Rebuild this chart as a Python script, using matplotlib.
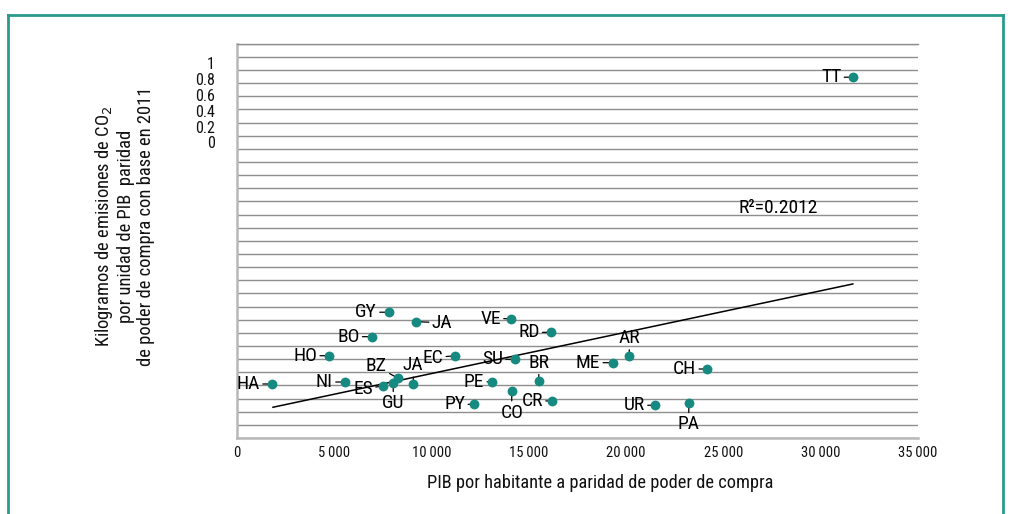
import matplotlib
matplotlib.use("Agg")
import matplotlib.pyplot as plt
from matplotlib import font_manager
from matplotlib.lines import Line2D
from matplotlib.ticker import MultipleLocator

# ---------------- data ----------------
countries = ["HA", "NI", "ES", "GU", "BZ", "JA", "GY", "JA", "BO", "HO", "EC", "VE", "RD",
             "SU", "BR", "PE", "CO", "CR", "PY", "ME", "AR", "CH", "UR", "PA", "TT"]
gdp_ppp = [1800, 5550, 7500, 8030, 8290, 9060, 7810, 9180, 6920, 4740, 11220, 14080, 16120,
           14290, 15510, 13120, 14120, 16190, 12200, 19340, 20160, 24170, 21480, 23220, 31680]
co2_units = [4.11, 4.26, 3.96, 4.16, 4.54, 4.09, 9.57, 8.85, 7.71, 6.26, 6.26, 9.08, 8.04,
             5.99, 4.36, 4.28, 3.60, 2.82, 2.56, 5.73, 6.24, 5.25, 2.49, 2.64, 27.45]
trend_x = [1850, 31650]
trend_y = [2.34, 11.72]
r2_label = "R\u00b2=0.2012"
xtick_values = [0, 5000, 10000, 15000, 20000, 25000, 30000, 35000]
ytick_labels = ["0", "0.2", "0.4", "0.6", "0.8", "1"]

# ---------------- layout / style ----------------
ytick_pos = [22.55, 23.7, 24.9, 26.1, 27.3, 28.55]
# label offsets in pixels (dx right, dy up), ha, va
label_layout = [
    (-12, 0, "right", "center"),   # HA
    (-12, 0, "right", "center"),   # NI
    (-10, -3, "right", "center"),  # ES
    (0, -11, "center", "top"),     # GU
    (-22, 3, "center", "bottom"),  # BZ
    (0, 10, "center", "bottom"),   # JA low
    (-12, 0, "right", "center"),   # GY
    (16, -1, "left", "center"),    # JA up
    (-12, 0, "right", "center"),   # BO
    (-12, 0, "right", "center"),   # HO
    (-12, -2, "right", "center"),  # EC
    (-10, 0, "right", "center"),   # VE
    (-11, 0, "right", "center"),   # RD
    (-12, 0, "right", "center"),   # SU
    (0, 9, "center", "bottom"),    # BR
    (-8, 0, "right", "center"),    # PE
    (0, -13, "center", "top"),     # CO
    (-9, 0, "right", "center"),    # CR
    (-9, 0, "right", "center"),    # PY
    (-13, 0, "right", "center"),   # ME
    (0, 9, "center", "bottom"),    # AR
    (-11, 0, "right", "center"),   # CH
    (-10, 0, "right", "center"),   # UR
    (0, -12, "center", "top"),     # PA
    (-12, 0, "right", "center"),   # TT
]


def pick(*names):
    avail = {f.name for f in font_manager.fontManager.ttflist}
    for n in names:
        if n in avail:
            return n
    return "DejaVu Sans"


FONT = pick("Liberation Sans Narrow", "Roboto Condensed", "DejaVu Sans Condensed", "Roboto")
plt.rcParams["font.family"] = [FONT, "DejaVu Sans"]

W, H, DPI = 1012, 514, 100
fig = plt.figure(figsize=(W / DPI, H / DPI), dpi=DPI)
px = 72.0 / DPI  # points per pixel

ax_l, ax_r, ax_t, ax_b = 237, 918, 43.7, 438
ax = fig.add_axes([ax_l / W, 1 - ax_b / H, (ax_r - ax_l) / W, (ax_b - ax_t) / H])
ax.set_xlim(0, 35000)
ax.set_ylim(0, 30)

GRID = "#8e8e8e"
ax.yaxis.set_minor_locator(MultipleLocator(1))
ax.grid(which="minor", axis="y", color=GRID, lw=1.0)
ax.grid(which="major", axis="both", visible=False)
ax.tick_params(axis="y", which="minor", length=0)
ax.set_yticks(ytick_pos)
ax.set_yticklabels(ytick_labels)
ax.tick_params(axis="y", which="major", length=0, pad=16, labelsize=11.5, labelcolor="#111111")
ax.set_xticks(xtick_values)
ax.set_xticklabels([f"{v:,}".replace(",", "\u2009") for v in xtick_values])
ax.tick_params(axis="x", length=0, pad=6, labelsize=10.5, labelcolor="#111111")
ax.set_axisbelow(True)

ax.spines["right"].set_visible(False)
ax.spines["top"].set_color(GRID)
ax.spines["top"].set_linewidth(1.0)
for s in ["left", "bottom"]:
    ax.spines[s].set_color("#b8b8b8")
    ax.spines[s].set_linewidth(1.8)

# trend line
ax.plot(trend_x, trend_y, color="black", lw=1.1, zorder=3)

# points
DOT = "#168a80"
ax.scatter(gdp_ppp, co2_units, s=50, color=DOT, zorder=6, linewidths=0)

for name, x, y, (dx, dy, ha, va) in zip(countries, gdp_ppp, co2_units, label_layout):
    ax.annotate(name, xy=(x, y), xytext=(dx * px, dy * px), textcoords="offset points",
                ha=ha, va=va, fontsize=14, color="black", zorder=5,
                arrowprops=dict(arrowstyle="-", color="black", lw=0.9,
                                shrinkA=0, shrinkB=0))

ax.text(27800, 17.5, r2_label, fontsize=14, ha="center", va="center", color="black")

# axis titles
fig.text(600 / W, 1 - 483 / H, "PIB por habitante a paridad de poder de compra",
         ha="center", va="center", fontsize=13.2, color="#111111")
fig.text(124 / W, 1 - 226 / H,
         "Kilogramos de emisiones de CO$_2$\npor unidad de PIB  paridad\nde poder de compra con base en 2011",
         rotation=90, ha="center", va="center", multialignment="center",
         fontsize=13.3, linespacing=1.12, color="#111111")

# outer teal frame
TEAL = "#2a9a8c"
fig.add_artist(Line2D([8 / W, 8 / W], [0, 1 - 14.5 / H], transform=fig.transFigure,
                      color=TEAL, lw=2.0))
fig.add_artist(Line2D([8 / W, 1003 / W], [1 - 14.5 / H, 1 - 14.5 / H],
                      transform=fig.transFigure, color=TEAL, lw=2.0))
fig.add_artist(Line2D([1003 / W, 1003 / W], [0, 1 - 14.5 / H], transform=fig.transFigure,
                      color=TEAL, lw=2.0))

fig.savefig("out.png", dpi=DPI)
